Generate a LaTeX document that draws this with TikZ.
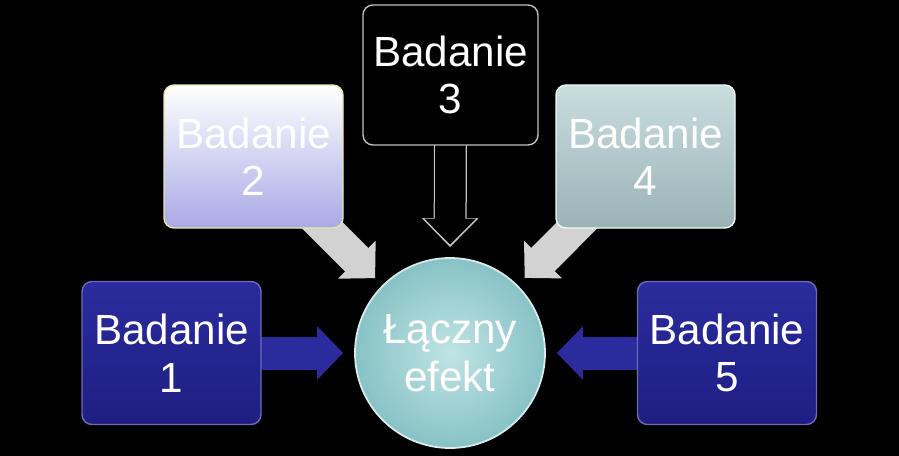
\documentclass[tikz,border=0pt]{standalone}
\usepackage{fontspec}
\setmainfont{Liberation Sans}
\usetikzlibrary{arrows.meta, backgrounds}

\definecolor{deepblue}{HTML}{2B2B9E}
\definecolor{deepbluedark}{HTML}{1E1E82}
\definecolor{lavender}{HTML}{A9A9E6}
\definecolor{paleyellow}{HTML}{E6E6A6}
\definecolor{greycyan}{HTML}{C9DDDE}
\definecolor{greycyandark}{HTML}{9AB3B6}
\definecolor{tealpale}{HTML}{C0E4E4}
\definecolor{tealmid}{HTML}{88C2C6}
\definecolor{arrowgrey}{HTML}{D2D2D2}

\begin{document}
\begin{tikzpicture}[
    study/.style={rectangle, rounded corners=0.2cm, minimum width=3.58cm, minimum height=2.86cm,
        align=center, text=white, font=\fontsize{24}{27}\selectfont, line width=0.8pt},
    bigarrow/.style={line width=0.66cm, -{Triangle[width=1.04cm, length=0.52cm]}},
]
    % studies around the pooled effect
    \node[circle, minimum size=3.8cm, inner color=tealpale, outer color=tealmid, draw=white!85!teal,
        line width=1pt, align=center, text=white, font=\fontsize{24}{27}\selectfont] (eff) at (9,-7.06) {Łączny\\efekt};
    \node[study, top color=deepblue, bottom color=deepbluedark, draw=deepblue!70!white] (b1) at (3.43,-7.06) {Badanie\\1};
    \node[study, top color=white, bottom color=lavender, draw=paleyellow] (b2) at (5.07,-3.13) {Badanie\\2};
    \node[study, fill=black, draw=gray!50, minimum width=3.5cm, minimum height=2.8cm] (b3) at (9.01,-1.5) {Badanie\\3};
    \node[study, top color=greycyan, bottom color=greycyandark, draw=white!80!greycyan] (b4) at (12.91,-3.13) {Badanie\\4};
    \node[study, top color=deepblue, bottom color=deepbluedark, draw=deepblue!70!white] (b5) at (14.54,-7.06) {Badanie\\5};

    \begin{scope}[on background layer]
        \fill[black] (0,0) rectangle (17.98,-9.12);
        \draw[bigarrow, deepblue, shorten <=-0.3cm, shorten >=0.22cm] (b1.east) -- (eff.west);
        \draw[bigarrow, deepblue, shorten <=-0.3cm, shorten >=0.22cm] (b5.west) -- (eff.east);
        \draw[bigarrow, arrowgrey, shorten <=-0.8cm, shorten >=0.2cm] (b2) -- (eff);
        \draw[bigarrow, arrowgrey, shorten <=-0.8cm, shorten >=0.2cm] (b4) -- (eff);
        % black arrow needs a grey rim
        \draw[line width=0.66cm, gray!45, -{Triangle[width=1.1cm, length=0.58cm]}, shorten <=-0.3cm, shorten >=0.2cm] (b3.south) -- (eff.north);
        \draw[line width=0.61cm, black, -{Triangle[width=1.0cm, length=0.52cm]}, shorten <=-0.3cm, shorten >=0.25cm] (b3.south) -- (eff.north);
    \end{scope}
\end{tikzpicture}
\end{document}
